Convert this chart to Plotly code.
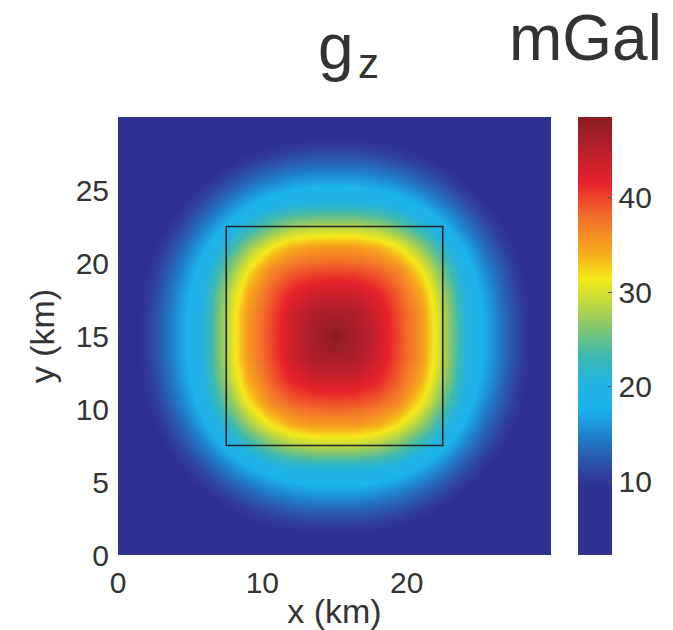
import plotly.graph_objects as go

# Grid coordinates (km)
x_km = [0, 1.5, 3, 4.5, 6, 7.5, 9, 10.5, 12, 13.5, 15, 16.5, 18, 19.5, 21, 22.5, 24, 25.5, 27, 28.5, 30]
y_km = [0, 1.5, 3, 4.5, 6, 7.5, 9, 10.5, 12, 13.5, 15, 16.5, 18, 19.5, 21, 22.5, 24, 25.5, 27, 28.5, 30]

# gz values (mGal), rows from y=0 (bottom) to y=30 (top)
gz_mgal = [
    [2.5, 2.9, 3.4, 4.0, 4.6, 5.1, 5.7, 6.1, 6.4, 6.6, 6.6, 6.6, 6.4, 6.1, 5.7, 5.1, 4.6, 4.0, 3.4, 2.9, 2.5],
    [2.9, 3.5, 4.2, 4.9, 5.8, 6.5, 7.5, 8.3, 8.8, 9.2, 9.2, 9.2, 8.8, 8.3, 7.5, 6.5, 5.8, 4.9, 4.2, 3.5, 2.9],
    [3.4, 4.2, 5.1, 6.1, 7.4, 8.7, 10.1, 11.3, 12.1, 12.7, 12.7, 12.7, 12.1, 11.3, 10.1, 8.7, 7.4, 6.1, 5.1, 4.2, 3.4],
    [4.0, 4.9, 6.1, 7.7, 9.4, 11.4, 13.3, 15.2, 16.3, 17.0, 17.0, 17.0, 16.3, 15.2, 13.3, 11.4, 9.4, 7.7, 6.1, 4.9, 4.0],
    [4.6, 5.8, 7.4, 9.4, 11.9, 14.7, 17.5, 19.5, 20.7, 21.2, 21.3, 21.2, 20.7, 19.5, 17.5, 14.7, 11.9, 9.4, 7.4, 5.8, 4.6],
    [5.1, 6.5, 8.7, 11.4, 14.7, 18.4, 21.8, 25.2, 27.4, 28.4, 28.5, 28.4, 27.4, 25.2, 21.8, 18.4, 14.7, 11.4, 8.7, 6.5, 5.1],
    [5.7, 7.5, 10.1, 13.3, 17.5, 21.8, 27.2, 31.5, 34.2, 35.3, 35.4, 35.3, 34.2, 31.5, 27.2, 21.8, 17.5, 13.3, 10.1, 7.5, 5.7],
    [6.1, 8.3, 11.3, 15.2, 19.5, 25.2, 31.5, 36.3, 38.5, 39.4, 39.6, 39.4, 38.5, 36.3, 31.5, 25.2, 19.5, 15.2, 11.3, 8.3, 6.1],
    [6.4, 8.8, 12.1, 16.3, 20.7, 27.4, 34.2, 38.5, 41.5, 43.3, 43.6, 43.3, 41.5, 38.5, 34.2, 27.4, 20.7, 16.3, 12.1, 8.8, 6.4],
    [6.6, 9.2, 12.7, 17.0, 21.2, 28.4, 35.3, 39.4, 43.3, 45.8, 46.6, 45.8, 43.3, 39.4, 35.3, 28.4, 21.2, 17.0, 12.7, 9.2, 6.6],
    [6.6, 9.2, 12.7, 17.0, 21.3, 28.5, 35.4, 39.6, 43.6, 46.6, 48.5, 46.6, 43.6, 39.6, 35.4, 28.5, 21.3, 17.0, 12.7, 9.2, 6.6],
    [6.6, 9.2, 12.7, 17.0, 21.2, 28.4, 35.3, 39.4, 43.3, 45.8, 46.6, 45.8, 43.3, 39.4, 35.3, 28.4, 21.2, 17.0, 12.7, 9.2, 6.6],
    [6.4, 8.8, 12.1, 16.3, 20.7, 27.4, 34.2, 38.5, 41.5, 43.3, 43.6, 43.3, 41.5, 38.5, 34.2, 27.4, 20.7, 16.3, 12.1, 8.8, 6.4],
    [6.1, 8.3, 11.3, 15.2, 19.5, 25.2, 31.5, 36.3, 38.5, 39.4, 39.6, 39.4, 38.5, 36.3, 31.5, 25.2, 19.5, 15.2, 11.3, 8.3, 6.1],
    [5.7, 7.5, 10.1, 13.3, 17.5, 21.8, 27.2, 31.5, 34.2, 35.3, 35.4, 35.3, 34.2, 31.5, 27.2, 21.8, 17.5, 13.3, 10.1, 7.5, 5.7],
    [5.1, 6.5, 8.7, 11.4, 14.7, 18.4, 21.8, 25.2, 27.4, 28.4, 28.5, 28.4, 27.4, 25.2, 21.8, 18.4, 14.7, 11.4, 8.7, 6.5, 5.1],
    [4.6, 5.8, 7.4, 9.4, 11.9, 14.7, 17.5, 19.5, 20.7, 21.2, 21.3, 21.2, 20.7, 19.5, 17.5, 14.7, 11.9, 9.4, 7.4, 5.8, 4.6],
    [4.0, 4.9, 6.1, 7.7, 9.4, 11.4, 13.3, 15.2, 16.3, 17.0, 17.0, 17.0, 16.3, 15.2, 13.3, 11.4, 9.4, 7.7, 6.1, 4.9, 4.0],
    [3.4, 4.2, 5.1, 6.1, 7.4, 8.7, 10.1, 11.3, 12.1, 12.7, 12.7, 12.7, 12.1, 11.3, 10.1, 8.7, 7.4, 6.1, 5.1, 4.2, 3.4],
    [2.9, 3.5, 4.2, 4.9, 5.8, 6.5, 7.5, 8.3, 8.8, 9.2, 9.2, 9.2, 8.8, 8.3, 7.5, 6.5, 5.8, 4.9, 4.2, 3.5, 2.9],
    [2.5, 2.9, 3.4, 4.0, 4.6, 5.1, 5.7, 6.1, 6.4, 6.6, 6.6, 6.6, 6.4, 6.1, 5.7, 5.1, 4.6, 4.0, 3.4, 2.9, 2.5],
]

# Prism outline (km)
prism_x = [7.5, 22.5]
prism_y = [7.5, 22.5]

x_ticks = [0, 10, 20]
y_ticks = [0, 5, 10, 15, 20, 25]
cbar_ticks = [10, 20, 30, 40]
z_range = [2.2, 48.5]

colorscale = [
    [0.000, "#2E3192"],
    [0.150, "#2E3192"],
    [0.180, "#2F3D9C"],
    [0.225, "#2A5DB3"],
    [0.275, "#1F84D0"],
    [0.335, "#1CB3EC"],
    [0.390, "#22B3E4"],
    [0.455, "#3DB9B0"],
    [0.520, "#84C66E"],
    [0.580, "#C6DA3A"],
    [0.630, "#F5E91A"],
    [0.690, "#F7AA1C"],
    [0.770, "#F2702A"],
    [0.850, "#E8222B"],
    [0.930, "#B41F2B"],
    [1.000, "#8A1C22"],
]

FONT = "Liberation Sans, Arial, Helvetica, sans-serif"
TXT = "#333333"
TICK_SIZE = 30
LABEL_SIZE = 34

fig = go.Figure()
fig.add_trace(go.Heatmap(
    x=x_km, y=y_km, z=gz_mgal,
    zmin=z_range[0], zmax=z_range[1],
    zsmooth="best",
    colorscale=colorscale,
    colorbar=dict(
        x=1.062, xanchor="left", xref="paper",
        y=0.5, yanchor="middle", len=1.0, lenmode="fraction",
        thickness=34, thicknessmode="pixels",
        outlinewidth=0,
        tickvals=cbar_ticks,
        ticks="inside", ticklen=4, tickcolor="#555555",
        tickfont=dict(family=FONT, size=TICK_SIZE, color=TXT),
        ypad=0, xpad=0,
    ),
    hoverinfo="skip",
))

fig.add_shape(type="rect", x0=prism_x[0], x1=prism_x[1], y0=prism_y[0], y1=prism_y[1],
              line=dict(color="#222222", width=1.6), xref="x", yref="y")

# Title: g with subscript z, and the unit
fig.add_annotation(text="g", x=0.5046, y=1.2459, xref="paper", yref="paper",
                   showarrow=False, xanchor="center", yanchor="top",
                   font=dict(family=FONT, size=64, color=TXT))
fig.add_annotation(text="z", x=0.578, y=1.1808, xref="paper", yref="paper",
                   showarrow=False, xanchor="center", yanchor="top",
                   font=dict(family=FONT, size=42, color=TXT))
fig.add_annotation(text="mGal", x=1.0797, y=1.2671, xref="paper", yref="paper",
                   showarrow=False, xanchor="center", yanchor="top",
                   font=dict(family=FONT, size=64, color=TXT))

fig.update_layout(
    width=673, height=630,
    margin=dict(l=118, r=122, t=117, b=75, pad=0, autoexpand=False),
    paper_bgcolor="white", plot_bgcolor="white",
    font=dict(family=FONT, color=TXT, size=TICK_SIZE),
    xaxis=dict(range=[0, 30], tickvals=x_ticks, showgrid=False, zeroline=False,
               showline=False, ticks="outside", ticklen=1, tickcolor="rgba(0,0,0,0)",
               tickfont=dict(size=TICK_SIZE, color=TXT), automargin=False,
               title=dict(text="x (km)", font=dict(size=LABEL_SIZE, color=TXT), standoff=4)),
    yaxis=dict(range=[0, 30], tickvals=y_ticks, showgrid=False, zeroline=False,
               showline=False, ticks="outside", ticklen=2, tickcolor="rgba(0,0,0,0)",
               tickfont=dict(size=TICK_SIZE, color=TXT), automargin=False,
               title=dict(text="y (km)", font=dict(size=LABEL_SIZE, color=TXT), standoff=10)),
)

fig.write_html("out.html")
